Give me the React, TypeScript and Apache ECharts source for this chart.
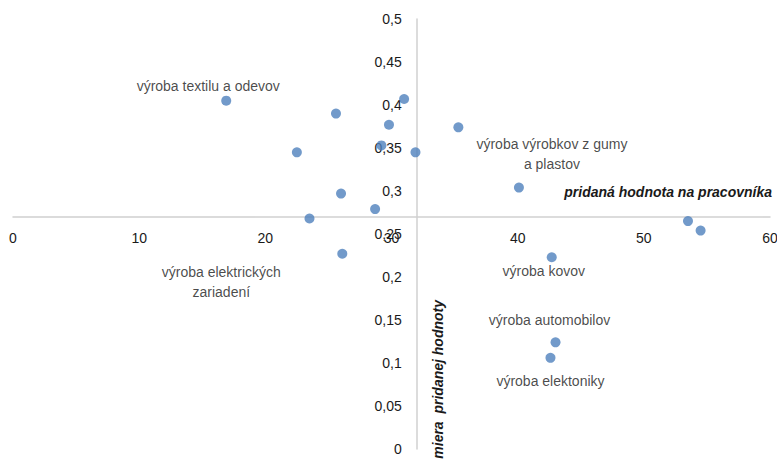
import React, { useEffect, useRef } from "react";
import * as echarts from "echarts";

const xValues = [16.9, 25.6, 31.0, 29.8, 35.3, 22.5, 29.2, 31.9, 26.0, 40.1, 28.7, 23.5, 26.1, 53.5, 54.5, 42.7, 43.0, 42.6];
const yValues = [0.405, 0.39, 0.407, 0.377, 0.374, 0.345, 0.353, 0.345, 0.297, 0.304, 0.279, 0.268, 0.227, 0.265, 0.254, 0.223, 0.124, 0.106];
const pointLabels = [
  "výroba textilu a odevov", "", "", "", "", "", "", "", "",
  "výroba výrobkov z gumy\na plastov", "", "",
  "výroba elektrických\nzariadení", "", "",
  "výroba kovov", "výroba automobilov", "výroba elektoniky",
];
const xTitle = "pridaná hodnota na pracovníka";
const yTitle = "miera  pridanej hodnoty";
const crossX = 32;
const crossY = 0.27;

// label placement (pixel offsets from the point)
const labelOffsets: Record<number, [number, number]> = {
  0: [-18, -15],
  9: [33, -34],
  12: [-121, 28],
  15: [-8, 14],
  16: [-6, -22],
  17: [0, 23],
};

const FONT = "'Liberation Sans Narrow', 'Arial Narrow', Arial, 'Liberation Sans', sans-serif";
const FS = 14;
const W = 777, H = 462;
const G = { left: 13, right: 7, top: 19, bottom: 13 };

export default function App() {
  const ref = useRef<HTMLDivElement>(null);
  useEffect(() => {
    document.body.style.margin = "0";
    const chart = echarts.init(ref.current!, null, { renderer: "svg" });
    const gw = W - G.left - G.right;
    const gh = H - G.top - G.bottom;
    const xOff = -(crossY / 0.5) * gh;
    const yOff = -(crossX / 60) * gw;
    const data = xValues.map((x, i) => {
      const item: any = { value: [x, yValues[i]] };
      if (pointLabels[i]) {
        item.label = {
          show: true,
          position: "inside",
          formatter: pointLabels[i],
          offset: labelOffsets[i] || [0, 0],
          color: "#1a1a1a",
          fontSize: FS,
          lineHeight: 20,
          fontFamily: FONT,
          align: "center",
          verticalAlign: "middle",
        };
      }
      return item;
    });
    chart.setOption({
      animation: false,
      backgroundColor: "#ffffff",
      grid: { ...G, containLabel: false, outerBoundsMode: "none" },
      xAxis: {
        type: "value",
        min: 0,
        max: 60,
        interval: 10,
        position: "bottom",
        offset: xOff,
        splitLine: { show: false },
        axisTick: { show: false },
        axisLine: { show: true, onZero: false, lineStyle: { color: "#d0d0d0", width: 1.5 } },
        axisLabel: { margin: 14, color: "#1a1a1a", fontSize: FS, fontFamily: FONT, hideOverlap: false },
      },
      yAxis: {
        type: "value",
        min: 0,
        max: 0.5,
        interval: 0.05,
        position: "left",
        offset: yOff,
        splitLine: { show: false },
        axisTick: { show: false },
        axisLine: { show: true, onZero: false, lineStyle: { color: "#d0d0d0", width: 1.5 } },
        axisLabel: {
          margin: 15,
          color: "#1a1a1a",
          fontSize: FS,
          fontFamily: FONT,
          hideOverlap: false,
          formatter: (v: number) => String(parseFloat(v.toFixed(2))).replace(".", ","),
        },
      },
      graphic: [
        {
          type: "text",
          x: 772,
          y: 192,
          style: {
            text: xTitle,
            align: "right",
            verticalAlign: "middle",
            fontSize: FS,
            fontWeight: "bold",
            fontStyle: "italic",
            fontFamily: FONT,
            fill: "#1a1a1a",
          },
        },
        {
          type: "text",
          x: 438,
          y: 300,
          rotation: Math.PI / 2,
          style: {
            text: yTitle,
            align: "right",
            verticalAlign: "middle",
            fontSize: FS,
            fontWeight: "bold",
            fontStyle: "italic",
            fontFamily: FONT,
            fill: "#1a1a1a",
          },
        },
      ],
      series: [
        {
          type: "scatter",
          symbol: "circle",
          symbolSize: 10,
          itemStyle: { color: "#4f81bd" },
          data,
        },
      ],
    });
    return () => chart.dispose();
  }, []);
  return <div ref={ref} style={{ width: W, height: H }} />;
}
